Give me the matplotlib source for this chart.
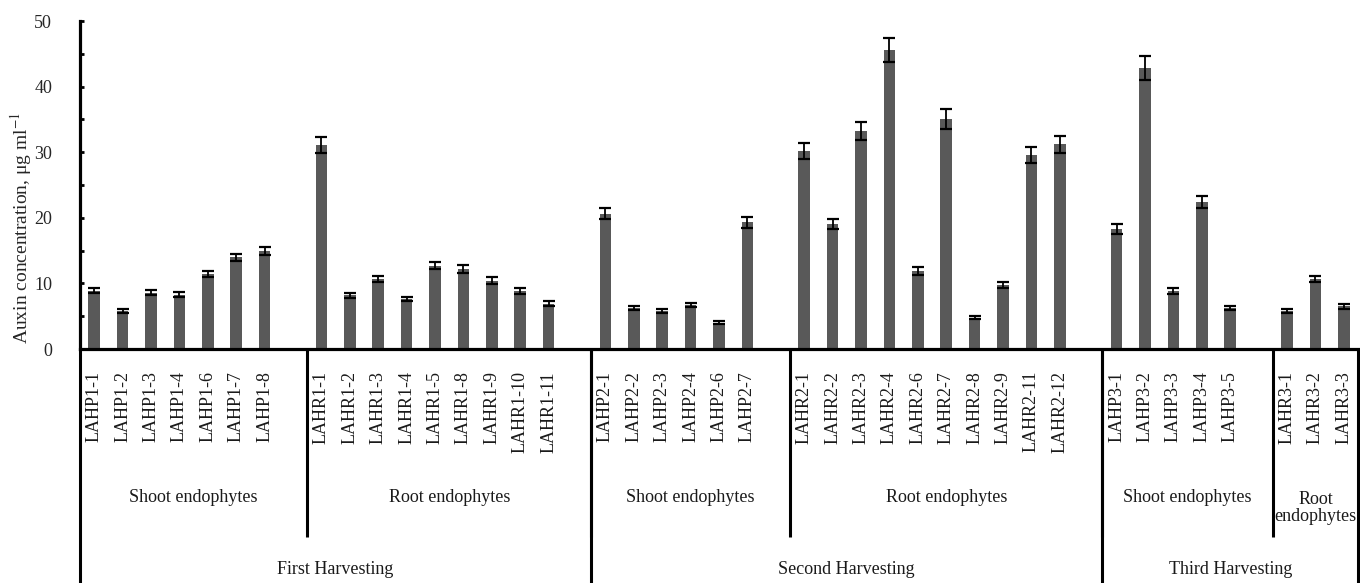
import matplotlib
matplotlib.use("Agg")
import matplotlib.pyplot as plt
from matplotlib.ticker import MultipleLocator

plt.rcParams['font.family'] = ['Liberation Serif', 'DejaVu Serif']
plt.rcParams['mathtext.fontset'] = 'stix'

# isolates per sub-group (shoot/root) and harvest
harvests = ["First Harvesting", "Second Harvesting", "Third Harvesting"]
group_names = ["Shoot endophytes", "Root endophytes", "Shoot endophytes",
               "Root endophytes", "Shoot endophytes", "Root\nendophytes"]
group_harvest = [0, 0, 1, 1, 2, 2]

isolates = [
    ["LAHP1-1", "LAHP1-2", "LAHP1-3", "LAHP1-4", "LAHP1-6", "LAHP1-7", "LAHP1-8"],
    ["LAHR1-1", "LAHR1-2", "LAHR1-3", "LAHR1-4", "LAHR1-5", "LAHR1-8", "LAHR1-9",
     "LAHR1-10", "LAHR1-11"],
    ["LAHP2-1", "LAHP2-2", "LAHP2-3", "LAHP2-4", "LAHP2-6", "LAHP2-7"],
    ["LAHR2-1", "LAHR2-2", "LAHR2-3", "LAHR2-4", "LAHR2-6", "LAHR2-7", "LAHR2-8",
     "LAHR2-9", "LAHR2-11", "LAHR2-12"],
    ["LAHP3-1", "LAHP3-2", "LAHP3-3", "LAHP3-4", "LAHP3-5"],
    ["LAHR3-1", "LAHR3-2", "LAHR3-3"],
]
auxin = [
    [8.9, 5.8, 8.6, 8.3, 11.5, 14.0, 15.0],
    [31.1, 8.2, 10.7, 7.6, 12.7, 12.2, 10.4, 8.9, 6.9],
    [20.6, 6.2, 5.8, 6.7, 4.0, 19.3],
    [30.2, 19.05, 33.2, 45.6, 11.9, 35.1, 4.8, 9.7, 29.6, 31.2],
    [18.3, 42.8, 8.8, 22.4, 6.25],
    [5.8, 10.7, 6.5],
]
sd = [
    [0.4, 0.25, 0.35, 0.35, 0.45, 0.55, 0.6],
    [1.2, 0.35, 0.45, 0.35, 0.55, 0.55, 0.5, 0.45, 0.35],
    [0.85, 0.3, 0.35, 0.35, 0.2, 0.85],
    [1.25, 0.8, 1.35, 1.85, 0.55, 1.5, 0.25, 0.45, 1.2, 1.3],
    [0.8, 1.8, 0.45, 0.95, 0.35],
    [0.3, 0.5, 0.35],
]

# build category slots: one empty slot after each group (except the last)
xs, ys, es, names = [], [], [], []
group_span = []
pos = 0
for g in range(len(isolates)):
    start = pos
    for name, v, e in zip(isolates[g], auxin[g], sd[g]):
        xs.append(pos)
        ys.append(v)
        es.append(e)
        names.append(name)
        pos += 1
    if g < len(isolates) - 1:
        pos += 1
    group_span.append((start - 0.5, pos - 0.5))
n_slots = pos

fig = plt.figure(figsize=(13.6, 5.83), dpi=100)
ax = fig.add_axes([80/1360, 1 - 349/583, 1278/1360, 328/583])

ax.bar(xs, ys, width=0.41, color="#595959", zorder=2)
ax.errorbar(xs, ys, yerr=es, fmt="none", ecolor="black", elinewidth=1.3,
            capsize=4.5, capthick=1.6, zorder=3)

ax.set_xlim(-0.5, n_slots - 0.5)
ax.set_ylim(0, 50)
ax.yaxis.set_major_locator(MultipleLocator(10))
ax.yaxis.set_minor_locator(MultipleLocator(5))
ax.tick_params(axis="y", which="both", direction="in", length=3, width=2,
               labelsize=13, pad=20, labelcolor="#262626")
ax.set_xticks([])
for s in ["top", "right"]:
    ax.spines[s].set_visible(False)
ax.spines["left"].set_linewidth(2.3)
ax.spines["bottom"].set_linewidth(2.3)

# axes-y coords of the rows below the axis (pixels -> axes fraction)
def ay(py):
    return (349 - py) / 328

tr = ax.get_xaxis_transform()

# isolate labels
for x, name in zip(xs, names):
    ax.text(x, ay(371), name, transform=tr, rotation=90, ha="center", va="top",
            fontsize=13, color="#1a1a1a")

# sub-group labels and separators
for (a, b), gname in zip(group_span, group_names):
    yc = ay(508) if "\n" in gname else ay(497)
    ax.text((a + b) / 2, yc, gname, transform=tr, ha="center", va="center",
            fontsize=13, color="#1a1a1a", linespacing=1.05, clip_on=False)
for a, b in group_span[1:]:
    ax.plot([a, a], [0, ay(537)], transform=tr, color="black", lw=2.2,
            clip_on=False, solid_capstyle="butt")

# harvest labels and separators
for h, hname in enumerate(harvests):
    spans = [group_span[i] for i in range(len(group_span)) if group_harvest[i] == h]
    a, b = spans[0][0], spans[-1][1]
    ax.text((a + b) / 2, ay(570), hname, transform=tr, ha="center", va="center",
            fontsize=13, color="#1a1a1a")
    ax.plot([a, a], [0, ay(590)], transform=tr, color="black", lw=2.2,
            clip_on=False, solid_capstyle="butt")
ax.plot([n_slots - 0.5] * 2, [0, ay(590)], transform=tr, color="black", lw=2.2,
        clip_on=False, solid_capstyle="butt")

fig.text(21/1360, 1 - 228/583, "Auxin concentration, μg ml$^{-1}$", rotation=90,
         ha="center", va="center", fontsize=14, color="#262626")

fig.savefig("out.png", dpi=100)
